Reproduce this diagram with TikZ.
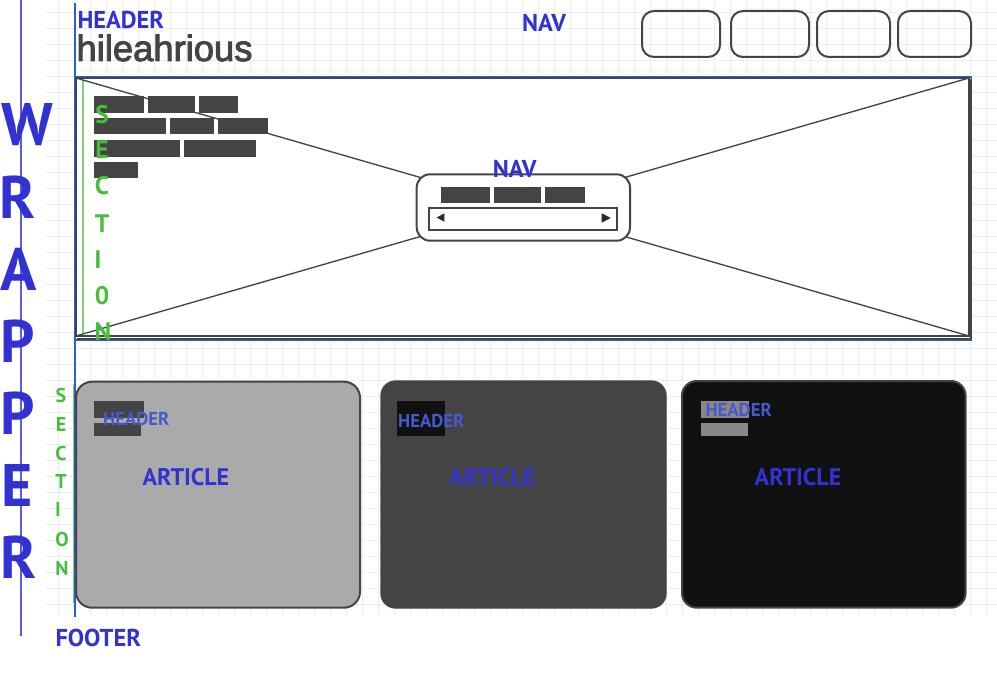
\documentclass[tikz,border=0pt]{standalone}
\usepackage{fontspec}
\setmainfont{PT Sans}
\newfontfamily\logofont[FakeBold=2.5]{Liberation Sans}
\definecolor{wireblue}{RGB}{50,50,210}
\definecolor{hdrblue}{RGB}{70,90,205}
\definecolor{edgeblue}{RGB}{40,95,210}
\definecolor{linevio}{RGB}{90,90,230}
\definecolor{secgreen}{RGB}{70,190,60}
\definecolor{wiregrey}{RGB}{68,68,68}
\definecolor{lightfill}{RGB}{170,170,170}
\definecolor{darkfill}{RGB}{17,17,17}
\definecolor{midfill}{RGB}{136,136,136}
\definecolor{gridgrey}{RGB}{238,238,238}
\newcommand{\fsz}[1]{\fontsize{#1}{#1}\selectfont}
\tikzset{every picture/.style={line width=0.75pt}}
\tikzset{
  gridline/.style={draw=gridgrey, line width=0.6pt},
  wirebox/.style={draw=wiregrey, line width=1.5pt},
  textbar/.style={fill=wiregrey, draw=none},
  bluelabel/.style={text=wireblue, font=\bfseries\fsz{18.3}, inner sep=0pt, anchor=base west},
  artlabel/.style={text=wireblue, font=\bfseries\fsz{18}, inner sep=0pt, anchor=base},
  arthdr/.style={text=hdrblue, font=\bfseries\fsz{14}, inner sep=0pt, anchor=base west},
  wrapletter/.style={text=wireblue, font=\bfseries\fsz{45}, inner sep=0pt, anchor=base},
  secletter/.style={text=secgreen, font=\bfseries\fsz{19}, inner sep=0pt, anchor=base},
  secsmall/.style={text=secgreen, font=\bfseries\fsz{15}, inner sep=0pt, anchor=base}
}

\begin{document}
\begin{tikzpicture}[x=0.75pt,y=0.75pt,yscale=-1,xscale=1]
	\useasboundingbox (0,0) rectangle (997,674);
	
	%Grid
	\foreach \gx in {58.7,74.7,...,997} \draw [gridline] (\gx,0) -- (\gx,615) ;
	\foreach \gy in {12.3,28.3,...,615} \draw [gridline] (45,\gy) -- (997,\gy) ;
	
	%Straight Lines: wrapper
	\draw [color=linevio, line width=1.1pt]    (21,0) -- (21,636) ;
	%Straight Lines: header edge
	\draw [color=edgeblue, line width=1pt]    (75,3) -- (75,617) ;
	
	%Shape: Rounded Rect (top nav buttons)
	\draw [wirebox, rounded corners=9]  (642,11) rectangle (720,57) ;
	\draw [wirebox, rounded corners=9]  (731,11) rectangle (809,57) ;
	\draw [wirebox, rounded corners=9]  (817,11) rectangle (890,57) ;
	\draw [wirebox, rounded corners=9]  (898,11) rectangle (971,57) ;
	
	%Shape: Rectangle (section)
	\draw [color=edgeblue, line width=1.2pt, fill=white]  (75,77) rectangle (971.5,340) ;
	\draw [wirebox]  (76,78) rectangle (969,336) ;
	\draw [wirebox]  (77,338.5) -- (970.5,338.5) -- (970.5,79) ;
	%Straight Lines: section green
	\draw [color=secgreen!70, line width=1pt]    (83,80) -- (83,334) ;
	
	%Shape: text bars
	\fill [textbar]  (94,96) rectangle (144,112.7) ;
	\fill [textbar]  (148.3,96) rectangle (195,112.7) ;
	\fill [textbar]  (199.3,96) rectangle (237.7,112.7) ;
	\fill [textbar]  (94,118.3) rectangle (165.7,134.3) ;
	\fill [textbar]  (170,118.3) rectangle (214,134.3) ;
	\fill [textbar]  (218.3,118.3) rectangle (268.3,134.3) ;
	\fill [textbar]  (94,140) rectangle (180,156.7) ;
	\fill [textbar]  (184,140) rectangle (256,156.7) ;
	\fill [textbar]  (94,162.3) rectangle (137.7,178.3) ;
	
	%Straight Lines: diagonals
	\draw [color=wiregrey, line width=1pt]    (76,78) -- (969,336) ;
	\draw [color=wiregrey, line width=1pt]    (969,78) -- (76,336) ;
	
	%Shape: Rounded Rect (slider nav)
	\draw [wirebox, fill=white, rounded corners=10]  (416.7,174.3) rectangle (630,240.7) ;
	\fill [textbar]  (441,187.3) rectangle (490,203.3) ;
	\fill [textbar]  (494.3,187.3) rectangle (541,203.3) ;
	\fill [textbar]  (545,187.3) rectangle (585,203.3) ;
	\draw [wirebox]  (429.3,208.3) rectangle (616.7,230) ;
	\fill [wiregrey!60!black]  (436.7,217.5) -- (444.3,213.3) -- (444.3,221.7) -- cycle ;
	\fill [wiregrey!60!black]  (610.7,218) -- (601.7,213.3) -- (601.7,222.7) -- cycle ;
	
	%Straight Lines: section green (articles)
	\draw [color=secgreen!70, line width=1pt]    (73.3,384) -- (73.3,603) ;
	
	%Shape: Rounded Rect (articles)
	\draw [wirebox, fill=lightfill, rounded corners=12]  (76,381.7) rectangle (360,607.7) ;
	\draw [draw=wiregrey, line width=1pt, fill=wiregrey, rounded corners=11]  (381,381) rectangle (666,608) ;
	\draw [wirebox, fill=darkfill, rounded corners=11]  (682,381) rectangle (965.6,607.7) ;
	
	%Shape: article header bars
	\fill [textbar]  (94,401) rectangle (144,417.7) ;
	\fill [textbar]  (94,423.3) rectangle (140.7,435.7) ;
	\fill [darkfill]  (397,401) rectangle (444.5,435.7) ;
	\fill [midfill]  (701,401) rectangle (749.4,417.7) ;
	\fill [midfill]  (701,423.3) rectangle (747.5,435.7) ;
	
	% Text Node
	\node [bluelabel] (hdrtop) at (77,28.8) {HEADER};
	% Text Node
	\node [text=wiregrey, font=\logofont\fsz{27.3}, inner sep=0pt, anchor=base west] (logo) at (76,61) {hileahrious};
	% Text Node
	\node [bluelabel] (navtop) at (521.7,31.5) {NAV};
	% Text Node
	\node [bluelabel, anchor=base] (navmid) at (514.7,177) {NAV};
	% Text Node
	\node [bluelabel] (footer) at (55,646.7) {FOOTER};
	
	% Text Node: wrapper letters
	\node [wrapletter] (wr1) at (27,146) {W};
	\node [wrapletter] (wr2) at (18,218.5) {R};
	\node [wrapletter] (wr3) at (19,290.5) {A};
	\node [wrapletter] (wr4) at (18,362) {P};
	\node [wrapletter] (wr5) at (18,434) {P};
	\node [wrapletter] (wr6) at (17,506) {E};
	\node [wrapletter] (wr7) at (19,578) {R};
	
	% Text Node: section letters
	\node [secletter] (sa1) at (102,123) {S};
	\node [secletter] (sa2) at (102,159) {E};
	\node [secletter] (sa3) at (102,195) {C};
	\node [secletter] (sa4) at (102,232) {T};
	\node [secletter] (sa5) at (98,268) {I};
	\node [secletter] (sa6) at (102,304) {0};
	\node [secletter] (sa7) at (103,340) {N};
	
	% Text Node: section letters (articles)
	\node [secsmall] (sb1) at (61,402.3) {S};
	\node [secsmall] (sb2) at (61,431.7) {E};
	\node [secsmall] (sb3) at (61,460) {C};
	\node [secsmall] (sb4) at (61,488.3) {T};
	\node [secsmall] (sb5) at (58,516.7) {I};
	\node [secsmall] (sb6) at (62,546.7) {O};
	\node [secsmall] (sb7) at (62,575) {N};
	
	% Text Node: article headers
	\node [arthdr] (ahd1) at (102.7,425.7) {HEADER};
	\node [arthdr] (ahd2) at (397.7,427.3) {HEADER};
	\node [arthdr] (ahd3) at (705,416.7) {HEADER};
	% Text Node: articles
	\node [artlabel] (art1) at (186,485) {ARTICLE};
	\node [artlabel] (art2) at (492.5,485) {ARTICLE};
	\node [artlabel] (art3) at (798,485) {ARTICLE};
	
\end{tikzpicture}
\end{document}
